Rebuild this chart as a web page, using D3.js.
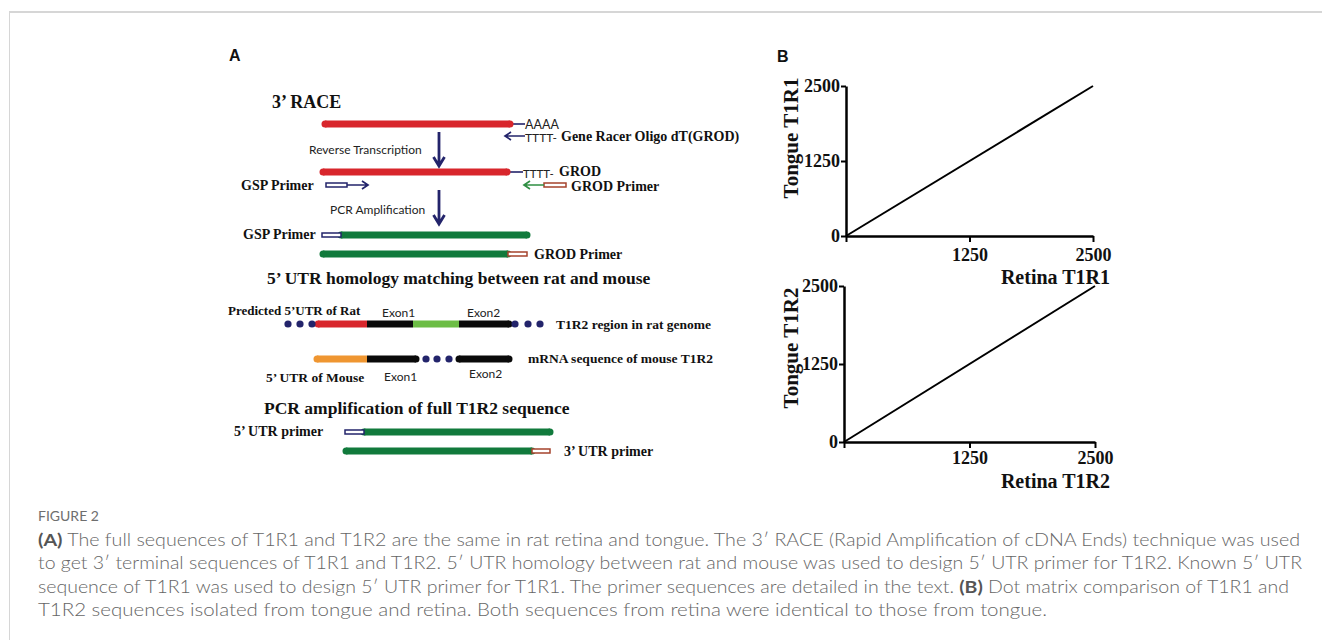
<!DOCTYPE html>
<html><head><meta charset="utf-8">
<script src="https://cdn.jsdelivr.net/npm/d3@7"></script>
<style>
html,body{margin:0;padding:0;background:#fff;}
svg{display:block;}
.serif{font-family:"Liberation Serif","Times New Roman",serif;font-weight:bold;fill:#111;}
.sans{font-family:Lato,"Open Sans",sans-serif;fill:#222;}
</style></head><body>
<svg id="fig" width="1322" height="640"></svg>
<script>
// ---------------- data ----------------
const dotTicks = [0, 1250, 2500];
const t1r1Identity = [[0, 0], [2500, 2500]];   // retina vs tongue T1R1
const t1r2Identity = [[0, 0], [2500, 2500]];   // retina vs tongue T1R2
const retinaTitles = ["Retina T1R1", "Retina T1R2"];
const tongueTitles = ["Tongue T1R1", "Tongue T1R2"];

// diagram sequence segments (position units along the drawn sequence)
const seqSegments = [
  {row: "rna",   x0: 325, x1: 510, kind: "red"},
  {row: "cdna",  x0: 323, x1: 507, kind: "red"},
  {row: "pcr1",  x0: 341, x1: 527, kind: "green"},
  {row: "pcr2",  x0: 323, x1: 508, kind: "green"},
  {row: "rat",   x0: 318, x1: 367, kind: "red"},
  {row: "rat",   x0: 367, x1: 413, kind: "black"},
  {row: "rat",   x0: 413, x1: 459, kind: "lime"},
  {row: "rat",   x0: 459, x1: 509, kind: "black"},
  {row: "mouse", x0: 317, x1: 367, kind: "orange"},
  {row: "mouse", x0: 367, x1: 416, kind: "black"},
  {row: "mouse", x0: 459, x1: 509, kind: "black"},
  {row: "full1", x0: 364, x1: 550, kind: "green"},
  {row: "full2", x0: 346, x1: 532, kind: "green"}
];
const primerBoxes = [
  {row: "gsp",   x0: 326, x1: 347, kind: "navy"},
  {row: "gsp",   x0: 544, x1: 566, kind: "brown"},
  {row: "pcr1",  x0: 322, x1: 341, kind: "navy"},
  {row: "pcr2",  x0: 508, x1: 527, kind: "brown"},
  {row: "full1", x0: 345, x1: 364, kind: "navy"},
  {row: "full2", x0: 532, x1: 550, kind: "brown"}
];
const gapDots = [
  {row: "rat", x: 288}, {row: "rat", x: 300}, {row: "rat", x: 312},
  {row: "rat", x: 515}, {row: "rat", x: 528}, {row: "rat", x: 540},
  {row: "mouse", x: 426}, {row: "mouse", x: 437}, {row: "mouse", x: 449}
];
const tailLines = [
  {row: "rna", x0: 510, x1: 525},
  {row: "cdna", x0: 507, x1: 523}
];
const sideArrows = [
  {row: "oligo", from: 525, to: 505, kind: "navy"},
  {row: "gsp",   from: 347, to: 368, kind: "navy"},
  {row: "gsp",   from: 544, to: 524, kind: "arrowGreen"}
];
const stepArrows = [
  {x: 439, y0: 132, y1: 166},
  {x: 439, y0: 190, y1: 224}
];

const captionLines = [
  [["(A)", true], [" The full sequences of T1R1 and T1R2 are the same in rat retina and tongue. The 3\u2032 RACE (Rapid Amplification of cDNA Ends) technique was used", false]],
  [["to get 3\u2032 terminal sequences of T1R1 and T1R2. 5\u2032 UTR homology between rat and mouse was used to design 5\u2032 UTR primer for T1R2. Known 5\u2032 UTR", false]],
  [["sequence of T1R1 was used to design 5\u2032 UTR primer for T1R1. The primer sequences are detailed in the text. ", false], ["(B)", true], [" Dot matrix comparison of T1R1 and", false]],
  [["T1R2 sequences isolated from tongue and retina. Both sequences from retina were identical to those from tongue.", false]]
];

// ---------------- styles / layout ----------------
const colors = {red: "#d8262c", green: "#117a3c", lime: "#6cbd45", orange: "#ef9631",
  black: "#0a0a0a", navy: "#23246b", brown: "#a5432d", arrowGreen: "#2f8f43"};
const rowY = {rna: 124, oligo: 136, cdna: 172, gsp: 185, pcr1: 235, pcr2: 254,
  rat: 324, mouse: 359, full1: 432, full2: 451};

const svg = d3.select("#fig");

// frame
svg.append("line").attr("x1", 9).attr("x2", 1322).attr("y1", 12).attr("y2", 12)
  .attr("stroke", "#d6d6d6").attr("stroke-width", 2);
svg.append("line").attr("x1", 9.5).attr("x2", 9.5).attr("y1", 12).attr("y2", 640)
  .attr("stroke", "#d6d6d6").attr("stroke-width", 1);

// ---------------- panel A ----------------
const gA = svg.append("g");
const xA = d3.scaleLinear().domain([0, 1000]).range([0, 1000]);
const barW = 7;

gA.append("text").attr("x", 229).attr("y", 61).text("A")
  .style("font-family", "'Liberation Sans',Arial,sans-serif").style("font-weight", "bold")
  .style("font-size", "16px").attr("fill", "#111");

// tail connector lines
gA.selectAll(".tail").data(tailLines).join("line")
  .attr("x1", d => xA(d.x0)).attr("x2", d => xA(d.x1))
  .attr("y1", d => rowY[d.row]).attr("y2", d => rowY[d.row])
  .attr("stroke", colors.navy).attr("stroke-width", 1.6);

// segments
gA.selectAll(".seg").data(seqSegments).join("line")
  .attr("x1", d => xA(d.x0)).attr("x2", d => xA(d.x1))
  .attr("y1", d => rowY[d.row]).attr("y2", d => rowY[d.row])
  .attr("stroke", d => colors[d.kind]).attr("stroke-width", barW);
// rounded caps at free ends
const caps = [];
seqSegments.forEach(s => {
  const same = seqSegments.filter(o => o !== s && o.row === s.row);
  if (!same.some(o => o.x1 === s.x0)) caps.push({row: s.row, x: s.x0, kind: s.kind});
  if (!same.some(o => o.x0 === s.x1)) caps.push({row: s.row, x: s.x1, kind: s.kind});
});
gA.selectAll(".cap").data(caps).join("circle")
  .attr("cx", d => xA(d.x)).attr("cy", d => rowY[d.row]).attr("r", barW / 2)
  .attr("fill", d => colors[d.kind]);

// primer boxes
gA.selectAll(".primer").data(primerBoxes).join("rect")
  .attr("x", d => xA(d.x0)).attr("width", d => xA(d.x1) - xA(d.x0))
  .attr("y", d => rowY[d.row] - 2).attr("height", 4)
  .attr("fill", "#fff").attr("stroke", d => colors[d.kind]).attr("stroke-width", 1.5);

// dots
gA.selectAll(".dot").data(gapDots).join("circle")
  .attr("cx", d => xA(d.x)).attr("cy", d => rowY[d.row]).attr("r", 3.6)
  .attr("fill", colors.navy);

// side arrows
sideArrows.forEach(a => {
  const y = rowY[a.row], x0 = xA(a.from), x1 = xA(a.to), dir = Math.sign(x1 - x0);
  gA.append("path")
    .attr("d", `M${x0},${y}L${x1},${y}M${x1 - dir * 6},${y - 4}L${x1},${y}L${x1 - dir * 6},${y + 4}`)
    .attr("fill", "none").attr("stroke", colors[a.kind]).attr("stroke-width", 1.7);
});
// step arrows
stepArrows.forEach(a => {
  gA.append("path")
    .attr("d", `M${a.x},${a.y0}L${a.x},${a.y1 - 1}M${a.x - 5.5},${a.y1 - 9}L${a.x},${a.y1}L${a.x + 5.5},${a.y1 - 9}`)
    .attr("fill", "none").attr("stroke", colors.navy).attr("stroke-width", 2.8);
});

// texts of panel A
const aTexts = [
  {t: "3\u2019 RACE", x: 272, y: 108, c: "serif", s: 18, base: true},
  {t: "AAAA", x: 525, y: 124, c: "sans", s: 12.5},
  {t: "TTTT-", x: 525, y: 137, c: "sans", s: 12},
  {t: "Gene Racer Oligo dT(GROD)", x: 561, y: 136, c: "serif", s: 14},
  {t: "Reverse Transcription", x: 309, y: 149, c: "sans", s: 12},
  {t: "TTTT-", x: 523, y: 173, c: "sans", s: 11.5},
  {t: "GROD", x: 559, y: 171, c: "serif", s: 14},
  {t: "GSP Primer", x: 241, y: 185, c: "serif", s: 14},
  {t: "GROD Primer", x: 571, y: 186, c: "serif", s: 14},
  {t: "PCR Amplification", x: 330, y: 209, c: "sans", s: 12},
  {t: "GSP Primer", x: 243, y: 234, c: "serif", s: 14},
  {t: "GROD Primer", x: 534, y: 254, c: "serif", s: 14},
  {t: "5\u2019 UTR homology matching between rat and mouse", x: 267, y: 284, c: "serif", s: 17.5, base: true},
  {t: "Predicted 5\u2019UTR of Rat", x: 228, y: 310, c: "serif", s: 13},
  {t: "Exon1", x: 382, y: 312, c: "sans", s: 12},
  {t: "Exon2", x: 467, y: 312, c: "sans", s: 12},
  {t: "T1R2 region in rat genome", x: 556, y: 324, c: "serif", s: 13.5},
  {t: "mRNA sequence of mouse T1R2", x: 528, y: 358, c: "serif", s: 13.5},
  {t: "5\u2019 UTR of Mouse", x: 266, y: 377, c: "serif", s: 13.5},
  {t: "Exon1", x: 384, y: 376, c: "sans", s: 12},
  {t: "Exon2", x: 469, y: 373, c: "sans", s: 12},
  {t: "PCR amplification of full T1R2 sequence", x: 264, y: 414, c: "serif", s: 17.5, base: true},
  {t: "5\u2019 UTR primer", x: 234, y: 431, c: "serif", s: 14},
  {t: "3\u2019 UTR primer", x: 564, y: 451, c: "serif", s: 14}
];
gA.selectAll(".lbl").data(aTexts).join("text")
  .attr("class", d => d.c)
  .attr("x", d => d.x).attr("y", d => d.y)
  .attr("dominant-baseline", d => d.base ? "alphabetic" : "central")
  .style("font-size", d => d.s + "px")
  .text(d => d.t);

// ---------------- panel B ----------------
svg.append("text").attr("x", 777).attr("y", 62).text("B")
  .style("font-family", "'Liberation Sans',Arial,sans-serif").style("font-weight", "bold")
  .style("font-size", "16px").attr("fill", "#111");

const plots = [
  {data: t1r1Identity, xr: [846, 1093], yr: [236, 86], xt: retinaTitles[0], yt: tongueTitles[0], xty: 277, ytc: 138, xpad: 6},
  {data: t1r2Identity, xr: [844, 1095], yr: [442, 286], xt: retinaTitles[1], yt: tongueTitles[1], xty: 481, ytc: 348, xpad: 3}
];
plots.forEach(p => {
  const g = svg.append("g");
  const x = d3.scaleLinear().domain([0, 2500]).range(p.xr);
  const y = d3.scaleLinear().domain([0, 2500]).range(p.yr);
  const ax = g.append("g").attr("transform", `translate(0,${p.yr[0]})`)
    .call(d3.axisBottom(x).tickValues(dotTicks).tickSize(6).tickSizeOuter(0).tickPadding(p.xpad)
      .tickFormat(d => d === 0 ? "" : d3.format("d")(d)));
  const ay = g.append("g").attr("transform", `translate(${p.xr[0]},0)`)
    .call(d3.axisLeft(y).tickValues(dotTicks).tickSize(5).tickSizeOuter(0).tickPadding(1)
      .tickFormat(d3.format("d")));
  [ax, ay].forEach(a => {
    a.select(".domain").attr("stroke", "#000").attr("stroke-width", 2.5);
    a.selectAll(".tick line").attr("stroke", "#000").attr("stroke-width", 2);
    a.selectAll(".tick text").attr("class", "serif").style("font-size", "18px").attr("fill", "#111");
  });
  g.append("path").datum(p.data)
    .attr("d", d3.line().x(d => x(d[0])).y(d => y(d[1])))
    .attr("fill", "none").attr("stroke", "#000").attr("stroke-width", 2);
  g.append("text").attr("class", "serif").attr("x", 1110).attr("y", p.xty)
    .attr("text-anchor", "end").attr("dominant-baseline", "central")
    .style("font-size", "20px").text(p.xt);
  g.append("text").attr("class", "serif")
    .attr("transform", `translate(791,${p.ytc}) rotate(-90)`)
    .attr("text-anchor", "middle").attr("dominant-baseline", "central")
    .style("font-size", "21px").text(p.yt);
});

// ---------------- caption ----------------
svg.append("text").attr("x", 38).attr("y", 521).text("FIGURE 2")
  .style("font-family", "Lato,'Open Sans',sans-serif").style("font-size", "14px").attr("fill", "#6e6e6e");
const lineW = [1262, 1264, 1251, 1009];
const lineY = [546, 569, 593, 616];
captionLines.forEach((parts, i) => {
  const t = svg.append("text").attr("x", 38).attr("y", lineY[i])
    .style("font-family", "Lato,'Open Sans',sans-serif").style("font-weight", 300)
    .style("font-size", "17px").attr("fill", "#666")
    .attr("textLength", lineW[i]).attr("lengthAdjust", "spacingAndGlyphs");
  parts.forEach(([s, b]) => {
    t.append("tspan").text(s).style("font-weight", b ? 700 : 300).attr("fill", b ? "#555" : "#666");
  });
});
</script>
</body></html>
